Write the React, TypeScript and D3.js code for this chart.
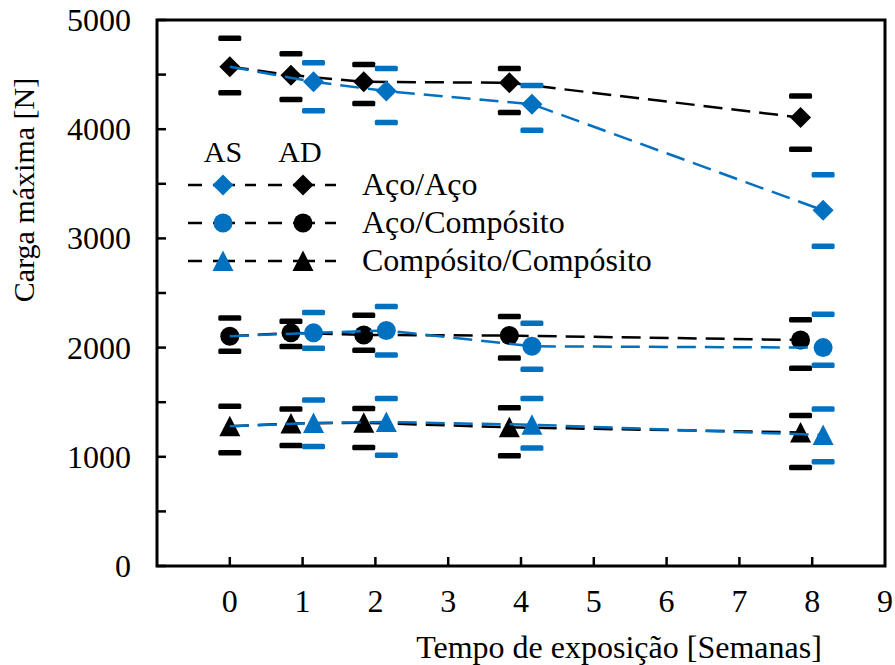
import React from "react";
import * as d3 from "d3";

// ---- data ----
const weeks = [0, 1, 2, 4, 8];
const xTicks = [0, 1, 2, 3, 4, 5, 6, 7, 8, 9];
const yTicks = [0, 1000, 2000, 3000, 4000, 5000];
const yMinorTicks = [500, 1500, 2500, 3500, 4500];
const seriesNames = ["Aço/Aço", "Aço/Compósito", "Compósito/Compósito"];
const groupLabels = ["AS", "AD"];

// AD (black)
const adAcoAco = [4572, 4495, 4434, 4425, 4107];
const adAcoAcoUp = [260, 196, 159, 132, 196];
const adAcoAcoDown = [239, 223, 198, 272, 290];
const adAcoComp = [2104, 2135, 2116, 2110, 2070];
const adAcoCompUp = [168, 106, 181, 174, 184];
const adAcoCompDown = [138, 126, 140, 205, 260];
const adCompComp = [1280, 1305, 1312, 1270, 1223];
const adCompCompUp = [182, 132, 131, 180, 156];
const adCompCompDown = [243, 201, 226, 261, 321];

// AS (blue) – first point shares the initial value, drawn without marker
const asAcoAco = [4572, 4434, 4349, 4229, 3257];
const asAcoAcoUp = [0, 174, 208, 172, 327];
const asAcoAcoDown = [0, 266, 288, 238, 328];
const asAcoComp = [2104, 2135, 2156, 2012, 2000];
const asAcoCompUp = [0, 186, 220, 211, 306];
const asAcoCompDown = [0, 141, 223, 211, 162];
const asCompComp = [1280, 1310, 1318, 1294, 1199];
const asCompCompUp = [0, 210, 217, 241, 238];
const asCompCompDown = [0, 215, 303, 214, 245];

const AD_SHIFT = -0.16;
const AS_SHIFT = 0.15;

const BLUE = "#0070C0";
const BLACK = "#000000";
const FONT = "Liberation Serif";
const TXT: React.CSSProperties = { fontFamily: "'Liberation Serif', 'Times New Roman', serif" };

type Shape = "diamond" | "circle" | "triangle";

function markerPath(shape: Shape, cx: number, cy: number): string {
  if (shape === "diamond") {
    const r = 10.5;
    return `M${cx},${cy - r}L${cx + r},${cy}L${cx},${cy + r}L${cx - r},${cy}Z`;
  }
  if (shape === "circle") {
    const p = d3.path();
    p.arc(cx, cy, 9.5, 0, Math.PI * 2);
    return p.toString();
  }
  return `M${cx},${cy - 10.5}L${cx + 10.5},${cy + 10}L${cx - 10.5},${cy + 10}Z`;
}

const shapes: Shape[] = ["diamond", "circle", "triangle"];

export default function App() {
  const width = 895;
  const height = 665;
  const left = 157;
  const right = 885;
  const top = 20;
  const bottom = 566;

  const x = d3.scaleLinear().domain([-1, 9]).range([left, right]);
  const y = d3.scaleLinear().domain([0, 5000]).range([bottom, top]);

  const ad = [
    { v: adAcoAco, up: adAcoAcoUp, dn: adAcoAcoDown },
    { v: adAcoComp, up: adAcoCompUp, dn: adAcoCompDown },
    { v: adCompComp, up: adCompCompUp, dn: adCompCompDown },
  ];
  const as = [
    { v: asAcoAco, up: asAcoAcoUp, dn: asAcoAcoDown },
    { v: asAcoComp, up: asAcoCompUp, dn: asAcoCompDown },
    { v: asCompComp, up: asCompCompUp, dn: asCompCompDown },
  ];

  const pos = (t: number, shift: number) => x(t === 0 ? 0 : t + shift);

  const line = d3
    .line<[number, number]>()
    .x((d) => d[0])
    .y((d) => d[1]);

  const renderGroup = (
    data: { v: number[]; up: number[]; dn: number[] }[],
    shift: number,
    color: string,
    skipFirst: boolean,
    key: string
  ) =>
    data.map((s, si) => {
      const pts: [number, number][] = weeks.map((t, i) => [pos(t, shift), y(s.v[i])]);
      return (
        <g key={key + si}>
          <path
            d={line(pts) || ""}
            fill="none"
            stroke={color}
            strokeWidth={2.5}
            strokeDasharray="19 9"
          />
          {weeks.map((t, i) => {
            if (skipFirst && i === 0) return null;
            const cx = pos(t, shift);
            return (
              <g key={i}>
                <rect x={cx - 11.5} y={y(s.v[i] + s.up[i]) - 2.75} width={23} height={5.5} rx={1.5} fill={color} />
                <rect x={cx - 11.5} y={y(s.v[i] - s.dn[i]) - 2.75} width={23} height={5.5} rx={1.5} fill={color} />
                <path d={markerPath(shapes[si], cx, y(s.v[i]))} fill={color} />
              </g>
            );
          })}
        </g>
      );
    });

  const legendRows = [185, 223, 261];
  const legendStarts = [188, 268];
  const legendLabelX = [223, 300];
  const legendColors = [BLUE, BLACK];

  return (
    <svg
      width={width}
      height={height}
      style={{ position: "absolute", left: 0, top: 0, background: "#fff" }}
    >
      <rect x={0} y={0} width={width} height={height} fill="#fff" />

      {/* y ticks */}
      {yTicks.concat(yMinorTicks).map((v) => (
        <line key={"yt" + v} x1={left} x2={left + 9} y1={y(v)} y2={y(v)} stroke={BLACK} strokeWidth={2.5} />
      ))}
      {yTicks.map((v) => (
        <text key={"yl" + v} x={131} y={y(v) + 11} textAnchor="end" fontSize={32} fill={BLACK} fontFamily={FONT} style={TXT}>
          {v}
        </text>
      ))}
      {/* x ticks */}
      {xTicks.slice(0, -1).map((t) => (
        <line key={"xt" + t} x1={x(t)} x2={x(t)} y1={bottom} y2={bottom - 9} stroke={BLACK} strokeWidth={2.5} />
      ))}
      {xTicks.map((t) => (
        <text key={"xl" + t} x={x(t)} y={612} textAnchor="middle" fontSize={32} fill={BLACK} fontFamily={FONT} style={TXT}>
          {t}
        </text>
      ))}

      {/* frame */}
      <rect x={left} y={top} width={right - left} height={bottom - top} fill="none" stroke={BLACK} strokeWidth={3} />

      {/* axis titles */}
      <text x={619} y={658} textAnchor="middle" fontSize={32} fill={BLACK} fontFamily={FONT} style={TXT}>
        Tempo de exposição [Semanas]
      </text>
      <text
        transform={`translate(34,190) rotate(-90)`}
        textAnchor="middle"
        fontSize={30}
        fill={BLACK}
        fontFamily={FONT}
        style={TXT}
      >
        Carga máxima [N]
      </text>

      {/* data: AD (black) then AS (blue) on top */}
      {renderGroup(ad, AD_SHIFT, BLACK, false, "ad")}
      {renderGroup(as, AS_SHIFT, BLUE, true, "as")}

      {/* legend */}
      {groupLabels.map((g, gi) => (
        <text key={g} x={legendLabelX[gi]} y={162} textAnchor="middle" fontSize={30} fill={BLACK} fontFamily={FONT} style={TXT}>
          {g}
        </text>
      ))}
      {seriesNames.map((name, si) => (
        <g key={name}>
          {legendStarts.map((sx, gi) => (
            <g key={gi}>
              <line
                x1={sx}
                x2={sx + 68}
                y1={legendRows[si]}
                y2={legendRows[si]}
                stroke={BLACK}
                strokeWidth={2.5}
                strokeDasharray="14 11 22 10 11"
              />
              <path d={markerPath(shapes[si], sx + 35, legendRows[si])} fill={legendColors[gi]} />
            </g>
          ))}
          <text x={362} y={legendRows[si] + 10} fontSize={32} fill={BLACK} fontFamily={FONT} style={TXT}>
            {name}
          </text>
        </g>
      ))}
    </svg>
  );
}
